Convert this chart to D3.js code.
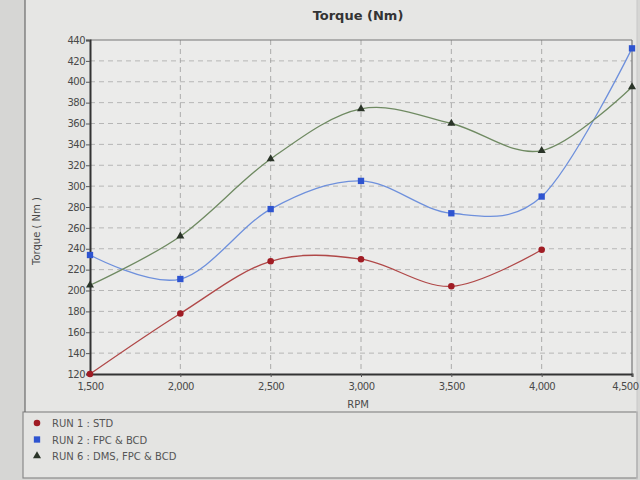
<!DOCTYPE html>
<html><head><meta charset="utf-8">
<script src="https://cdn.jsdelivr.net/npm/d3@7"></script>
<style>
html,body{margin:0;padding:0;background:#d9d9d7;}
svg{display:block;}
</style></head>
<body>
<svg id="chart" width="640" height="480"></svg>
<script>
const rpm = [1500, 2000, 2500, 3000, 3500, 4000, 4500];
const run1 = [120, 178, 228, 230, 204, 239, null];
const run2 = [234, 211, 278, 305, 274, 290, 432];
const run6 = [205, 252, 326, 374, 360, 334, 395];
const seriesNames = ["RUN 1 : STD", "RUN 2 : FPC & BCD", "RUN 6 : DMS, FPC & BCD"];
const yTicks = d3.range(120, 441, 20);
const xTicks = rpm;

const svg = d3.select("#chart");
const W = 640, H = 480;
const m = {l: 90, r: 632, t: 40, b: 374};

// backgrounds
svg.append("rect").attr("x",0).attr("y",0).attr("width",W).attr("height",H).attr("fill","#d6d6d4");
svg.append("rect").attr("x",25).attr("y",0).attr("width",612).attr("height",412).attr("fill","#e6e6e4");
svg.append("rect").attr("x",23).attr("y",412).attr("width",614).attr("height",66).attr("fill","#e4e4e2")
  .attr("stroke","#8a8a8a").attr("stroke-width",1.2);
svg.append("line").attr("x1",25).attr("x2",25).attr("y1",0).attr("y2",412).attr("stroke","#6a6a6a").attr("stroke-width",1.2);
svg.append("line").attr("x1",637).attr("x2",637).attr("y1",0).attr("y2",480).attr("stroke","#c8c8c8").attr("stroke-width",1);

const x = d3.scaleLinear().domain([1500, 4500]).range([m.l, m.r]);
const y = d3.scaleLinear().domain([120, 440]).range([m.b, m.t]);

svg.append("rect").attr("x",m.l).attr("y",m.t).attr("width",m.r-m.l).attr("height",m.b-m.t).attr("fill","#ebebea");

// grid
const g = svg.append("g");
g.selectAll(".hg").data(yTicks.slice(1, -1)).join("line")
  .attr("x1", m.l).attr("x2", m.r).attr("y1", d=>y(d)).attr("y2", d=>y(d))
  .attr("stroke","#a8a8a8").attr("stroke-width",0.8).attr("stroke-dasharray","5,4");
g.selectAll(".vg").data(xTicks.slice(1, -1)).join("line")
  .attr("y1", m.t).attr("y2", m.b).attr("x1", d=>x(d)).attr("x2", d=>x(d))
  .attr("stroke","#9a9a9a").attr("stroke-width",0.8).attr("stroke-dasharray","5,4");

// border top/right
svg.append("line").attr("x1",m.l).attr("x2",m.r).attr("y1",m.t).attr("y2",m.t).attr("stroke","#777").attr("stroke-width",1.2);
svg.append("line").attr("x1",m.r).attr("x2",m.r).attr("y1",m.t).attr("y2",m.b).attr("stroke","#777").attr("stroke-width",1.2);

// axes
const yAxis = svg.append("g").attr("transform",`translate(${m.l},0)`)
  .call(d3.axisLeft(y).tickValues(yTicks).tickSize(4).tickFormat(d3.format("d")));
const xAxis = svg.append("g").attr("transform",`translate(0,${m.b})`)
  .call(d3.axisBottom(x).tickValues(xTicks).tickSize(3).tickFormat(d3.format(",")));
[yAxis, xAxis].forEach(a => {
  a.select(".domain").attr("stroke","#333").attr("stroke-width",2);
  a.selectAll(".tick line").attr("stroke","#555");
  a.selectAll("text").attr("fill","#4a4a4a").style("font-family","'DejaVu Sans', sans-serif").style("font-size","10px").style("letter-spacing","-0.5px");
});
yAxis.selectAll("text").attr("x",-5);
xAxis.selectAll("text").attr("y",9);
xAxis.selectAll(".tick").filter(d => d === 4500).select("text").attr("text-anchor","end").attr("x",6);

// titles
svg.append("text").attr("x",358).attr("y",20).attr("text-anchor","middle")
  .style("font-family","'DejaVu Sans', sans-serif").style("font-size","13px").style("font-weight","bold")
  .attr("fill","#333").text("Torque (Nm)");
svg.append("text").attr("x",358).attr("y",408).attr("text-anchor","middle")
  .style("font-family","'DejaVu Sans', sans-serif").style("font-size","10px").attr("fill","#4a4a4a").text("RPM");
svg.append("text").attr("transform","translate(40,231) rotate(-90)").attr("text-anchor","middle")
  .style("font-family","'DejaVu Sans', sans-serif").style("font-size","10px").attr("fill","#4a4a4a").text("Torque ( Nm )");

// series
const series = [
  {name: seriesNames[0], vals: run1, line: "#b04848", mark: "#a01c24", shape: d3.symbolCircle, size: 34},
  {name: seriesNames[1], vals: run2, line: "#6e90dc", mark: "#2e54d0", shape: d3.symbolSquare, size: 40},
  {name: seriesNames[2], vals: run6, line: "#6f8a62", mark: "#2a3428", shape: d3.symbolTriangle, size: 28}
];
const lineGen = d3.line().defined(d=>d[1]!=null).x(d=>x(d[0])).y(d=>y(d[1])).curve(d3.curveCardinal.tension(0));
series.forEach(s => {
  const pts = rpm.map((r,i)=>[r, s.vals[i]]).filter(d=>d[1]!=null);
  svg.append("path").datum(pts).attr("d", lineGen).attr("fill","none").attr("stroke", s.line).attr("stroke-width",1.3);
});
series.forEach(s => {
  const pts = rpm.map((r,i)=>[r, s.vals[i]]).filter(d=>d[1]!=null);
  svg.selectAll(null).data(pts).join("path")
    .attr("transform", d=>`translate(${x(d[0])},${y(d[1])})`)
    .attr("d", d3.symbol().type(s.shape).size(s.size)).attr("fill", s.mark);
});

// legend
const lg = svg.append("g");
series.forEach((s,i) => {
  const yy = 423 + i*16.5;
  lg.append("path").attr("transform",`translate(37,${yy})`).attr("d", d3.symbol().type(s.shape).size(s.size)).attr("fill", s.mark);
  lg.append("text").attr("x",52).attr("y",yy+4)
    .style("font-family","'DejaVu Sans', sans-serif").style("font-size","10px").attr("fill","#555").text(s.name);
});
</script>
</body></html>
